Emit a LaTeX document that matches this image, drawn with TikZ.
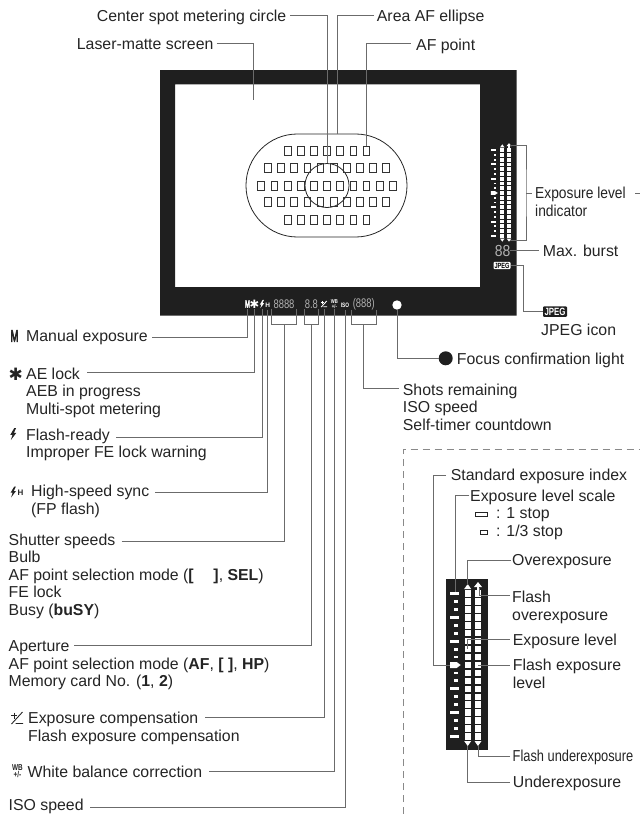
\documentclass[tikz,border=0pt]{standalone}
\usepackage{fontspec}
\setmainfont{Liberation Sans}
\newfontfamily\narrowfont[FakeStretch=0.87]{Liberation Sans}
\newfontfamily\tightfont[FakeStretch=0.81]{Liberation Sans}
\newfontfamily\lcdfont[FakeStretch=0.75]{Liberation Sans}
\newfontfamily\slimfont[FakeStretch=0.55,FakeBold=3]{Liberation Sans}
\newfontfamily\symfont{DejaVu Sans}
\usetikzlibrary{calc,positioning}
\definecolor{inkdark}{gray}{0.14}
\definecolor{framedark}{gray}{0.12}
\definecolor{leadergray}{gray}{0.42}
\tikzset{
		lbl/.style={anchor=base west, inner sep=0pt, align=left, text=inkdark, font=\fontsize{15.85}{17.4}\selectfont},
		icon/.style={inner sep=0pt, text=inkdark},
		lcd/.style={inner sep=0pt, minimum height=10pt, text=white},
		lcdnum/.style={lcd, text=white!70!black, font=\lcdfont\fontsize{12.5}{12.5}\selectfont},
		leader/.style={draw=leadergray, line width=0.95pt},
		afbox/.style={draw=black!80, line width=0.75pt},
		afring/.style={draw=black!85, line width=0.8pt},
		flashbolt/.pic={
			\fill (1,-6) -- (-3,0.8) -- (-0.8,0.8) -- (-2.4,6) -- (3,-1.1) -- (0.6,-1.1) -- (2.8,-6) -- cycle;
		},
		evicon/.pic={
			\draw[line width=0.9pt] (-6,-2.5) -- (0,-2.5) (-3,-5.5) -- (-3,0.5);
			\draw[line width=0.9pt] (5.5,-6) -- (-5.5,6) (-1.5,5.5) -- (6,5.5);
		}
	}
% exposure bar: origin on the first column, at the index row
\newcommand{\expbar}[1]{
		\begin{scope}[#1]
			\foreach \i in {-9,...,9}{
				\fill[white] (-3,\i*7.93-3.2) rectangle (3,\i*7.93+3.2);
				\fill[white] (7.3,\i*7.93-3.2) rectangle (13.3,\i*7.93+3.2);
			}
			\foreach \i in {-9,-6,-3,3,6,9}
				\fill[white] (-17.7,\i*7.93-1.6) rectangle (-9,\i*7.93+1.6);
			\foreach \i in {-8,-7,-5,-4,-2,-1,1,2,4,5,7,8}
				\fill[white] (-13.5,\i*7.93-1.4) rectangle (-9.7,\i*7.93+1.4);
			\fill[white] (-17.7,-3) -- (-11,-3) -- (-7,0) -- (-11,3) -- (-17.7,3) -- cycle;
			\fill[white] (-3.5,-76) -- (3.5,-76) -- (0,-81) -- cycle;
			\fill[white] (-3.5,76) -- (3.5,76) -- (0,81) -- cycle;
			\fill[white] (6.3,-78) -- (14.3,-78) -- (10.3,-83) -- cycle;
			\fill[white] (9.2,-78.5) rectangle (11.4,-74);
			\fill[white] (6.8,76) -- (13.8,76) -- (10.3,81) -- cycle;
		\end{scope}
	}

\begin{document}
\begin{tikzpicture}[x=1pt, y=-1pt]
		\useasboundingbox (0,0) rectangle (640,814);

		% viewfinder frame
		\fill[framedark, even odd rule] (160,70) rectangle (516.7,315.5) (175,84.3) rectangle (480,287);
		\node[afring, rounded corners=51.4pt, minimum width=161pt, minimum height=103pt, inner sep=0pt] (afEllipse) at (326.5,185.5) {};
		\node[afring, circle, minimum size=44pt, inner sep=0pt] (spotCircle) at (327,185.5) {};
		\foreach \rowy/\cnt in {151/7, 168/10, 185.7/11, 202/10, 220/7}{
			\foreach \k in {1,...,\cnt}{
				\pgfmathsetmacro{\px}{327+(\k-(\cnt+1)/2)*13.15}
				\draw[afbox] (\px-3.4,\rowy-4.8) rectangle (\px+3.4,\rowy+4.8);
			}
		}
		\expbar{shift={(502.3,193)}, xscale=.65, yscale=.6}

		% display strip
		\node[lcd, font=\slimfont\fontsize{10.5}{10.5}\selectfont] (lcdManual) at (247.5,304) {M};
		\node[lcd, font=\fontsize{11.5}{11.5}\selectfont] (lcdLock) at (254.5,304) {\symfont ✱};
		\node[lcd, minimum width=4pt] (lcdFlash) at (262,304) {};
		\pic[color=white, scale=.7] at (lcdFlash) {flashbolt};
		\node[lcd, font=\bfseries\fontsize{6.5}{6.5}\selectfont] (lcdSync) at (267.7,305) {H};
		\node[lcdnum, minimum width=25pt] (lcdShutter) at (284,304) {8888};
		\node[lcdnum, minimum width=11pt] (lcdAperture) at (311.4,304) {8.8};
		\node[lcd, minimum width=8pt] (lcdComp) at (324,304) {};
		\pic[color=white, scale=.5] at (lcdComp) {evicon};
		\node[lcd, align=center, font=\lcdfont\bfseries\fontsize{5.6}{5.2}\selectfont] (lcdBalance) at (334.4,304) {WB\\+/-};
		\node[lcd, font=\lcdfont\bfseries\fontsize{6.4}{6.4}\selectfont] (lcdIso) at (345,305) {ISO};
		\node[lcdnum, minimum width=24.5pt] (lcdShots) at (363.7,304) {(888)};
		\node[circle, fill=white, minimum size=9.4pt, inner sep=0pt] (lcdFocus) at (397,305) {};
		\node[lcdnum, font=\narrowfont\fontsize{16}{16}\selectfont] (lcdBurst) at (502.5,250.7) {88};
		\node[fill=white, rounded corners=1pt, inner xsep=1pt, inner ysep=1pt, text=black, font=\lcdfont\bfseries\fontsize{7.5}{7.5}\selectfont] (lcdJpeg) at (502,265.5) {JPEG};

		% labels above and to the right
		\node[lbl] (spotTxt) at (96.7,21) {Center spot metering circle};
		\node[lbl] (areaTxt) at (376.7,21.5) {Area AF ellipse};
		\node[lbl] (screenTxt) at (76.7,49.3) {Laser-matte screen};
		\node[lbl] (pointTxt) at (416,50) {AF point};
		\node[lbl, font=\narrowfont\fontsize{15.85}{17.4}\selectfont] (indicatorTxt) at (535,216) {Exposure level\\indicator};
		\node[lbl] (burstTxt) at (542.7,256) {Max. burst};
		\node[fill=framedark, rounded corners=1pt, inner xsep=1.5pt, inner ysep=1.5pt, text=white, font=\lcdfont\bfseries\fontsize{10.5}{10.5}\selectfont] (jpegMark) at (555,311.7) {JPEG};
		\node[lbl] (jpegTxt) at (541,335.7) {JPEG icon};
		\node[circle, fill=framedark, minimum size=14pt, inner sep=0pt] (focusMark) at (445.7,358.3) {};
		\node[lbl] (focusTxt) at (456.7,364) {Focus confirmation light};
		\node[lbl] (shotsTxt) at (402.7,430) {Shots remaining\\ISO speed\\Self-timer countdown};

		% labels on the left
		\node[icon, font=\slimfont\fontsize{17}{17}\selectfont] (manualMark) at (14.5,336) {M};
		\node[lbl] (manualTxt) at (26,341.7) {Manual exposure};
		\node[icon, font=\fontsize{17}{17}\selectfont] (lockMark) at (15.7,374) {\symfont ✱};
		\node[lbl] (lockTxt) at (26,414) {AE lock\\AEB in progress\\Multi-spot metering};
		\pic[color=inkdark] at (13.3,434) {flashbolt};
		\node[lbl] (flashTxt) at (26,457.7) {Flash-ready\\Improper FE lock warning};
		\pic[color=inkdark, scale=.9] at (13.3,492) {flashbolt};
		\node[icon, font=\bfseries\fontsize{8}{8}\selectfont] (syncH) at (20.5,492.5) {H};
		\node[lbl] (syncTxt) at (31,514.3) {High-speed sync\\(FP flash)};
		\node[lbl] (shutterTxt) at (8.5,615) {Shutter speeds\\Bulb\\AF point selection mode (\textbf{[\hspace{1.25em}]}, \textbf{SEL})\\FE lock\\Busy (\textbf{buSY})};
		\node[lbl] (apertureTxt) at (8.5,686.7) {Aperture\\AF point selection mode (\textbf{AF}, \textbf{[ ]}, \textbf{HP})\\Memory card No. (\textbf{1}, \textbf{2})};
		\pic[color=inkdark] at (17,718) {evicon};
		\node[lbl] (compTxt) at (28,741) {Exposure compensation\\Flash exposure compensation};
		\node[icon, align=center, font=\lcdfont\bfseries\fontsize{8.5}{6.6}\selectfont] (balanceMark) at (17.5,771) {WB\\+/-};
		\node[lbl] (balanceTxt) at (27.5,777.3) {White balance correction};
		\node[lbl] (isoTxt) at (8.5,810.7) {ISO speed};

		% leader starts beside the texts
		\coordinate (spotL) at (290,15);
		\coordinate (areaL) at (374,15);
		\coordinate (screenL) at (216.7,43.7);
		\coordinate (pointL) at (410.7,43.7);
		\coordinate (manualL) at (152,337);
		\coordinate (lockL) at (87,372.3);
		\coordinate (flashL) at (116,437);
		\coordinate (syncL) at (155,492);
		\coordinate (shutterL) at (121.7,541.3);
		\coordinate (apertureL) at (74,645.7);
		\coordinate (compL) at (205,717.7);
		\coordinate (balanceL) at (209,771);
		\coordinate (isoL) at (90,807.3);
		\coordinate (screenEnd) at (253.3,100);
		\coordinate (areaEnd) at (337.3,134);
		\coordinate (pointEnd) at (366.7,146);
		\coordinate (shutterJoin) at ([yshift=-15.5pt]lcdShutter.south);
		\coordinate (apertureJoin) at ([yshift=-15.5pt]lcdAperture.south);
		\coordinate (shotsJoin) at ([yshift=-14.5pt]lcdShots.south);

		% leaders
		\draw[leader] (spotL) -| (spotCircle.north);
		\draw[leader] (areaL) -| (areaEnd);
		\draw[leader] (screenL) -| (screenEnd);
		\draw[leader] (pointL) -| (pointEnd);
		\draw[leader] (manualL) -| (lcdManual.south);
		\draw[leader] (lockL) -| (lcdLock.south);
		\draw[leader] (flashL) -| (lcdFlash.south);
		\draw[leader] (syncL) -| (lcdSync.south);
		\draw[leader] (lcdShutter.south west) -- (shutterJoin -| lcdShutter.south west) -- (shutterJoin -| lcdShutter.south east) -- (lcdShutter.south east);
		\draw[leader] (shutterL) -| (shutterJoin);
		\draw[leader] (lcdAperture.south west) -- (apertureJoin -| lcdAperture.south west) -- (apertureJoin -| lcdAperture.south east) -- (lcdAperture.south east);
		\draw[leader] (apertureL) -| (apertureJoin);
		\draw[leader] (compL) -| (lcdComp.south);
		\draw[leader] (balanceL) -| (lcdBalance.south);
		\draw[leader] (isoL) -| (lcdIso.south);
		\draw[leader] (lcdShots.south west) -- (shotsJoin -| lcdShots.south west) -- (shotsJoin -| lcdShots.south east) -- (lcdShots.south east);
		\coordinate (shotsL) at (399,388.3);
		\draw[leader] (shotsL) -| (shotsJoin);
		\draw[leader] (lcdFocus.south) |- (focusMark.west);
		\coordinate (meterTop) at (510,145.7);
		\coordinate (meterBot) at (510,240);
		\coordinate (meterMid) at (526,193);
		\coordinate (meterOut) at (532,193);
		\coordinate (meterFar) at (635,193);
		\coordinate (meterEdge) at (640,193);
		\draw[leader] (meterTop) -| (meterMid) |- (meterBot);
		\draw[leader] (meterMid) -- (meterOut);
		\draw[leader] (meterFar) -- (meterEdge);
		\coordinate (burstL) at (539,250.7);
		\coordinate (jpegBend) at (523.3,311.7);
		\draw[leader] (lcdBurst.east) -- (burstL);
		\draw[leader] (lcdJpeg.east) -| (jpegBend) -- (jpegMark.west);

		% dashed box of the detail
		\coordinate (boxFoot) at (403,814);
		\coordinate (boxCorner) at (403,449.7);
		\coordinate (boxEdge) at (640,449.7);
		\draw[leadergray!80!white, line width=0.8pt, dash pattern=on 7.5pt off 4.5pt] (boxFoot) -- (boxCorner) -- (boxEdge);

		% detail of the exposure bar
		\fill[framedark] (446,579) rectangle (487.7,750);
		\expbar{shift={(467.7,665)}}
		\node[lbl] (indexTxt) at (450.7,480.7) {Standard exposure index};
		\node[lbl] (scaleTxt) at (470,501) {Exposure level scale};
		\node[draw=inkdark, line width=0.6pt, minimum width=11.5pt, minimum height=4.5pt, inner sep=0pt] (oneStop) at (481.5,514.5) {};
		\node[lbl] (oneTxt) at (496,518.3) {: 1 stop};
		\node[draw=inkdark, line width=0.6pt, minimum width=6.5pt, minimum height=3.8pt, inner sep=0pt] (thirdStop) at (483.7,532.5) {};
		\node[lbl] (thirdTxt) at (496,536) {: 1/3 stop};
		\node[lbl] (overTxt) at (512,565) {Overexposure};
		\node[lbl] (flashOverTxt) at (512,620) {Flash\\overexposure};
		\node[lbl] (levelTxt) at (512.7,645) {Exposure level};
		\node[lbl] (flashLevelTxt) at (512.7,688.3) {Flash exposure\\level};
		\node[lbl, font=\tightfont\fontsize{15.85}{17.4}\selectfont] (flashUnderTxt) at (512.5,761.7) {Flash underexposure};
		\node[lbl] (underTxt) at (512.7,787.7) {Underexposure};

		\coordinate (indexL) at (446,475);
		\coordinate (indexBend) at (433.3,665);
		\coordinate (indexEnd) at (450,665);
		\coordinate (scaleL) at (469.3,495);
		\coordinate (scaleEnd) at (455,591.7);
		\coordinate (overL) at (510.7,560);
		\coordinate (overEnd) at (467.7,585);
		\coordinate (flashOverL) at (510,595.7);
		\coordinate (flashOverEnd) at (479,588);
		\coordinate (levelL) at (510,639.3);
		\coordinate (levelEnd) at (467.3,649.3);
		\coordinate (flashLevelL) at (510,665);
		\coordinate (flashLevelEnd) at (478.3,665);
		\coordinate (flashUnderL) at (510,756.7);
		\coordinate (flashUnderEnd) at (478,746);
		\coordinate (underL) at (510,782);
		\coordinate (underEnd) at (467.7,746);
		\draw[leader] (indexL) -| (indexBend) -- (indexEnd);
		\draw[leader] (scaleL) -| (scaleEnd);
		\draw[leader] (overL) -| (overEnd);
		\draw[leader] (flashOverL) -| (flashOverEnd);
		\draw[leader] (levelL) -| (levelEnd);
		\draw[leader] (flashLevelL) -- (flashLevelEnd);
		\draw[leader] (flashUnderL) -| (flashUnderEnd);
		\draw[leader] (underL) -| (underEnd);
	\end{tikzpicture}
\end{document}
